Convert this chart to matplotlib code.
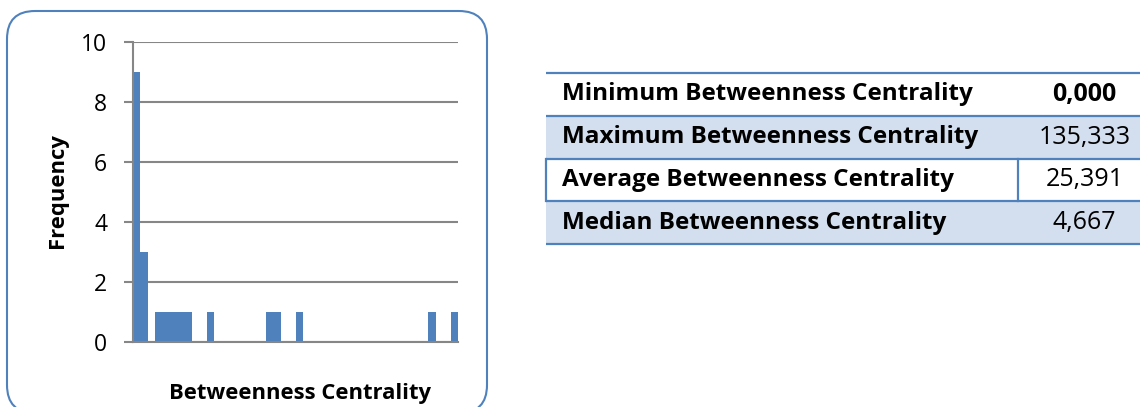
import numpy as np
import matplotlib
matplotlib.use("Agg")
import matplotlib.pyplot as plt
from matplotlib.patches import FancyBboxPatch, Rectangle

plt.rcParams['font.family'] = ['Open Sans', 'DejaVu Sans']

# histogram of betweenness centrality, 44 equal bins from 0 to the maximum
freq = [9, 3, 0, 1, 1, 1, 1, 1, 0, 0, 1, 0, 0, 0, 0, 0, 0, 0, 1, 1, 0, 0,
        1, 0, 0, 0, 0, 0, 0, 0, 0, 0, 0, 0, 0, 0, 0, 0, 0, 0, 1, 0, 0, 1]
y_ticks = [0, 2, 4, 6, 8, 10]

# summary table
stat_labels = ['Minimum Betweenness Centrality',
               'Maximum Betweenness Centrality',
               'Average Betweenness Centrality',
               'Median Betweenness Centrality']
stat_values = ['0,000', '135,333', '25,391', '4,667']

BLUE = '#4F81BD'
LIGHT = '#D3DFEE'
GRID = '#868686'

W, H = 1140, 407
fig = plt.figure(figsize=(W / 100, H / 100), dpi=100)

# rounded frame around the chart, in pixel units
bg = fig.add_axes([0, 0, 1, 1])
bg.set_xlim(0, W)
bg.set_ylim(0, H)
bg.axis('off')
bg.add_patch(FancyBboxPatch((7, -6), 480, 402,
                            boxstyle='round,pad=0,rounding_size=28',
                            fc='white', ec=BLUE, lw=1.5))

ax = fig.add_axes([133 / W, (H - 342) / H, 325 / W, 300 / H])
ax.patch.set_alpha(0)
x = np.arange(len(freq))
ax.bar(x, freq, width=1.0, align='edge', color=BLUE, zorder=3)
ax.set_xlim(0, len(freq))
ax.set_ylim(0, 10)
ax.set_yticks(y_ticks)
ax.set_xticks([])
ax.yaxis.grid(True, color=GRID, lw=1.5, zorder=1)
for s in ['top', 'right']:
    ax.spines[s].set_visible(False)
for s in ['left', 'bottom']:
    ax.spines[s].set_color(GRID)
    ax.spines[s].set_linewidth(1.5)
    ax.spines[s].set_zorder(4)
ax.tick_params(axis='y', direction='out', length=6.5, width=1.5, color=GRID,
               pad=12, labelsize=16.5)

fig.text(58 / W, 1 - 191 / H, 'Frequency', rotation=90, ha='center',
         va='center', fontsize=15.8, fontweight='bold')
fig.text(300 / W, 1 - 393 / H, 'Betweenness Centrality', ha='center',
         va='center', fontsize=15.8, fontweight='bold')

# table, one unit per row
tab = fig.add_axes([546 / W, (H - 244) / H, 606 / W, 171 / H])
tab.set_xlim(0, 1)
tab.set_ylim(len(stat_labels), 0)
tab.axis('off')
sep = (1018 - 546) / 606
for i, (lab, val) in enumerate(zip(stat_labels, stat_values)):
    fc = LIGHT if i % 2 == 1 else 'white'
    tab.add_patch(Rectangle((0, i), 1, 1, fc=fc, ec='none', zorder=1))
    tab.text(0.026, i + 0.5, lab, ha='left', va='center', fontsize=17.5,
             fontweight='bold', zorder=3)
    tab.text(0.889, i + 0.5, val, ha='center', va='center', fontsize=18,
             fontweight='bold' if i == 0 else 'normal', zorder=3)
for i in range(len(stat_labels) + 1):
    tab.plot([0, 1], [i, i], color=BLUE, lw=1.6, zorder=4, clip_on=False,
             solid_capstyle='butt')
# the average row is boxed with a column divider
tab.plot([0, 0], [2, 3], color=BLUE, lw=1.6, zorder=4, clip_on=False)
tab.plot([sep, sep], [2, 3], color=BLUE, lw=1.6, zorder=4, clip_on=False)

fig.savefig('out.png', dpi=100)
